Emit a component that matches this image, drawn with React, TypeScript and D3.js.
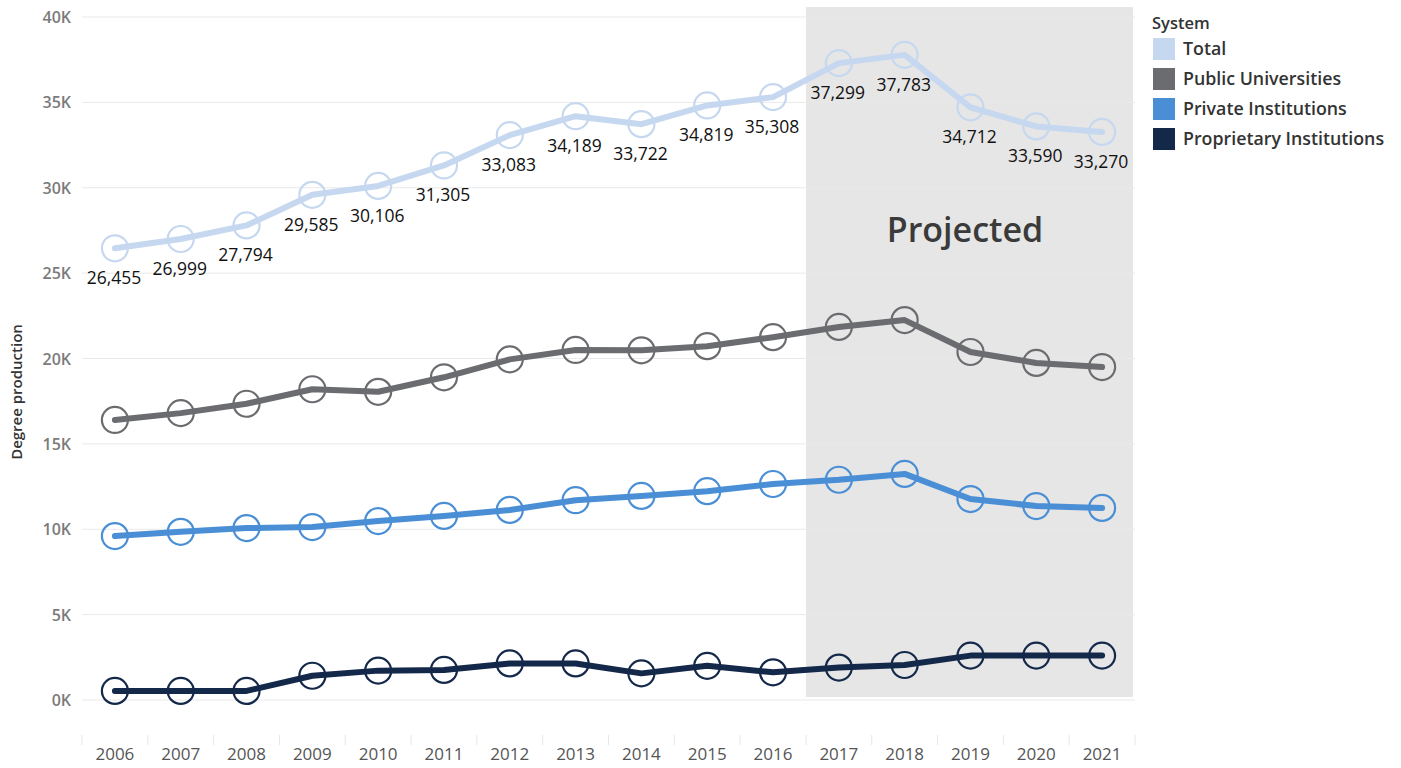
import React, { useEffect, useRef } from 'react';
import * as d3 from 'd3';

const years = ['2006', '2007', '2008', '2009', '2010', '2011', '2012', '2013', '2014', '2015', '2016', '2017', '2018', '2019', '2020', '2021'];
const projectedFrom = '2017';

const total = [26455, 26999, 27794, 29585, 30106, 31305, 33083, 34189, 33722, 34819, 35308, 37299, 37783, 34712, 33590, 33270];
const publicUniv = [16400, 16800, 17350, 18200, 18050, 18900, 19950, 20500, 20480, 20720, 21250, 21850, 22250, 20380, 19740, 19500];
const privateInst = [9600, 9850, 10070, 10130, 10480, 10780, 11130, 11700, 11950, 12230, 12650, 12900, 13240, 11770, 11360, 11250];
const proprietary = [530, 530, 530, 1420, 1720, 1760, 2140, 2140, 1560, 2000, 1620, 1900, 2050, 2600, 2600, 2600];

const seriesNames = ['Total', 'Public Universities', 'Private Institutions', 'Proprietary Institutions'];
const seriesColors = ['#c6d8ef', '#6b6c70', '#4a8fd6', '#14284a'];
const yTicks = [0, 5000, 10000, 15000, 20000, 25000, 30000, 35000, 40000];

const font = '"Open Sans", "DejaVu Sans", sans-serif';

const App = () => {
  const svgRef = useRef(null);

  useEffect(() => {
    document.body.style.margin = '0';
    const svg = d3.select(svgRef.current)
      .attr('width', 1401)
      .attr('height', 768)
      .style('font-family', font);
    svg.selectAll('*').remove();

    const xScale = d3.scaleBand()
      .domain(years)
      .range([82, 1135])
      .padding(0);
    const cx = (yr) => xScale(yr) + xScale.bandwidth() / 2;

    const yScale = d3.scaleLinear()
      .domain([0, 40000])
      .range([700, 17]);

    // projected band
    svg.append('rect')
      .attr('x', xScale(projectedFrom))
      .attr('y', 7)
      .attr('width', 1133 - xScale(projectedFrom))
      .attr('height', 690)
      .attr('fill', '#e6e6e6');

    // gridlines + y labels
    svg.selectAll('.grid')
      .data(yTicks)
      .enter()
      .append('line')
      .attr('x1', 82)
      .attr('x2', 1135)
      .attr('y1', d => yScale(d))
      .attr('y2', d => yScale(d))
      .attr('stroke', '#e9e9e9')
      .attr('stroke-width', 1);

    svg.selectAll('.ylab')
      .data(yTicks)
      .enter()
      .append('text')
      .attr('x', 71)
      .attr('y', d => yScale(d) + 6)
      .attr('text-anchor', 'end')
      .attr('fill', '#7b7b7b')
      .style('font-size', '16px')
      .style('font-weight', 600)
      .text(d => `${d / 1000}K`);

    svg.append('text')
      .attr('transform', 'translate(22, 392) rotate(-90)')
      .attr('text-anchor', 'middle')
      .attr('fill', '#333')
      .style('font-size', '15px')
      .style('font-weight', 600)
      .text('Degree production');

    // x axis ticks + labels
    svg.selectAll('.xtick')
      .data(years.concat(['end']))
      .enter()
      .append('line')
      .attr('x1', (d, i) => 82 + i * xScale.bandwidth())
      .attr('x2', (d, i) => 82 + i * xScale.bandwidth())
      .attr('y1', 735)
      .attr('y2', 745)
      .attr('stroke', '#e6e6e6');

    svg.selectAll('.xlab')
      .data(years)
      .enter()
      .append('text')
      .attr('x', d => cx(d))
      .attr('y', 760)
      .attr('text-anchor', 'middle')
      .attr('fill', '#555')
      .style('font-size', '17px')
      .text(d => d);

    // lines
    const allSeries = [total, publicUniv, privateInst, proprietary];
    const line = d3.line()
      .x((d, i) => cx(years[i]))
      .y(d => yScale(d));

    allSeries.forEach((vals, si) => {
      const g = svg.append('g');
      g.append('path')
        .datum(vals)
        .attr('d', line)
        .attr('fill', 'none')
        .attr('stroke', seriesColors[si])
        .attr('stroke-width', 6)
        .attr('stroke-linejoin', 'round')
        .attr('stroke-linecap', 'round');
      g.selectAll('circle')
        .data(vals)
        .enter()
        .append('circle')
        .attr('cx', (d, i) => cx(years[i]))
        .attr('cy', d => yScale(d))
        .attr('r', 13)
        .attr('fill', 'none')
        .attr('stroke', seriesColors[si])
        .attr('stroke-width', 2.2);
    });

    // total labels
    svg.selectAll('.label')
      .data(total)
      .enter()
      .append('text')
      .attr('x', (d, i) => cx(years[i]) - 1)
      .attr('y', d => yScale(d) + 36)
      .attr('text-anchor', 'middle')
      .attr('fill', '#111')
      .style('font-size', '17.5px')
      .text(d => d3.format(',')(d));

    svg.append('text')
      .attr('x', 965)
      .attr('y', 242)
      .attr('text-anchor', 'middle')
      .attr('fill', '#3a3a3a')
      .style('font-size', '34px')
      .style('font-weight', 600)
      .text('Projected');

    // legend
    const legend = svg.append('g').attr('transform', 'translate(1152, 0)');
    legend.append('text')
      .attr('x', 0)
      .attr('y', 29)
      .attr('fill', '#333')
      .style('font-size', '16.5px')
      .style('font-weight', 600)
      .text('System');
    seriesNames.forEach((name, i) => {
      const cy = 49 + i * 30;
      legend.append('rect')
        .attr('x', 1)
        .attr('y', cy - 11)
        .attr('width', 22)
        .attr('height', 22)
        .attr('fill', seriesColors[i]);
      legend.append('text')
        .attr('x', 31)
        .attr('y', cy + 6)
        .attr('fill', '#333')
        .style('font-size', '17.8px')
        .style('font-weight', 600)
        .text(name);
    });
  }, []);

  return <svg ref={svgRef} style={{ display: 'block' }}></svg>;
};

export default App;
